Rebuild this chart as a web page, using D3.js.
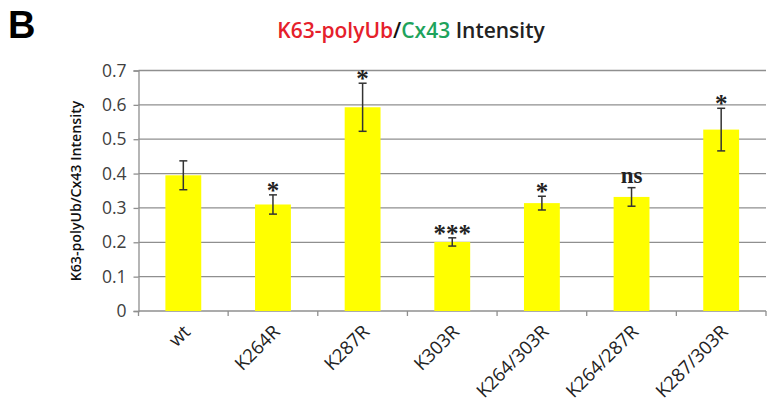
<!DOCTYPE html>
<html>
<head>
<meta charset="utf-8">
<script src="https://cdn.jsdelivr.net/npm/d3@7"></script>
<style>
  body { margin: 0; background: #fff; }
  svg { display: block; }
</style>
</head>
<body>
<div id="chart"></div>
<script>
// data
const categories = ["wt", "K264R", "K287R", "K303R", "K264/303R", "K264/287R", "K287/303R"];
const values = [0.395, 0.310, 0.593, 0.201, 0.314, 0.332, 0.528];
const errors = [0.042, 0.028, 0.070, 0.012, 0.020, 0.027, 0.062];
const marks = ["", "*", "*", "***", "*", "ns", "*"];
const yTicks = [0, 0.1, 0.2, 0.3, 0.4, 0.5, 0.6, 0.7];

const W = 780, H = 406;
const margin = { top: 70.5, right: 14, bottom: 95, left: 138.5 };
const width = W - margin.left - margin.right,
  height = H - margin.top - margin.bottom;

const svg = d3
  .select("#chart")
  .append("svg")
  .attr("width", W)
  .attr("height", H);

// panel letter
svg.append("text")
  .attr("x", 8)
  .attr("y", 38)
  .text("B")
  .attr("font-family", "Liberation Sans, Arial, sans-serif")
  .attr("font-weight", "bold")
  .attr("font-size", "38px")
  .attr("fill", "#000");

// title with coloured parts
const title = svg.append("text")
  .attr("x", 411)
  .attr("y", 38)
  .attr("text-anchor", "middle")
  .attr("font-family", "Open Sans, sans-serif")
  .attr("font-weight", 600)
  .attr("font-size", "21px");
title.append("tspan").text("K63-polyUb").attr("fill", "#e5202b");
title.append("tspan").text("/").attr("fill", "#111");
title.append("tspan").text("Cx43").attr("fill", "#1ea35c");
title.append("tspan").text(" Intensity").attr("fill", "#222");

const g = svg.append("g")
  .attr("transform", `translate(${margin.left}, ${margin.top})`);

const x = d3.scaleBand().domain(categories).range([0, width]).padding(0);
const y = d3.scaleLinear().domain([0, 0.7]).range([height, 0]);

// gridlines
g.selectAll(".grid")
  .data(yTicks.filter(d => d > 0))
  .join("line")
  .attr("x1", 0)
  .attr("x2", width)
  .attr("y1", d => y(d))
  .attr("y2", d => y(d))
  .attr("stroke", "#8f8f8f")
  .attr("stroke-width", 1.3);

// y axis
const yAxis = g.append("g")
  .call(d3.axisLeft(y).tickValues(yTicks).tickSize(5).tickPadding(7)
    .tickFormat(d => d === 0 ? "0" : d3.format(".1f")(d)));
yAxis.select(".domain").attr("stroke", "#8f8f8f").attr("stroke-width", 1.3);
yAxis.selectAll(".tick line").attr("stroke", "#8f8f8f").attr("stroke-width", 1.3);
yAxis.selectAll(".tick text")
  .attr("font-family", "Open Sans, sans-serif")
  .attr("font-size", "17.5px")
  .attr("fill", "#404040");

// x axis line and boundary ticks
g.append("line")
  .attr("x1", 0).attr("x2", width)
  .attr("y1", height).attr("y2", height)
  .attr("stroke", "#8f8f8f").attr("stroke-width", 1.3);
const bounds = categories.map(c => x(c)).concat([width]);
g.selectAll(".xtick")
  .data(bounds)
  .join("line")
  .attr("x1", d => d).attr("x2", d => d)
  .attr("y1", height).attr("y2", height + 5)
  .attr("stroke", "#8f8f8f").attr("stroke-width", 1.3);

// x labels
g.selectAll(".xlab")
  .data(categories)
  .join("text")
  .attr("transform", d => `translate(${x(d) + x.bandwidth() / 2 + 8}, ${height + 22}) rotate(-45)`)
  .attr("text-anchor", "end")
  .attr("font-family", "Open Sans, sans-serif")
  .attr("font-size", "18.5px")
  .attr("fill", "#222")
  .text(d => d);

// bars
const bw = x.bandwidth() * 0.4;
g.selectAll(".bar")
  .data(categories)
  .join("rect")
  .attr("x", d => x(d) + x.bandwidth() / 2 - bw / 2)
  .attr("y", (d, i) => y(values[i]))
  .attr("width", bw)
  .attr("height", (d, i) => height - y(values[i]))
  .attr("fill", "#ffff00");

// error bars
const eb = g.selectAll(".err")
  .data(categories)
  .join("g")
  .attr("transform", d => `translate(${x(d) + x.bandwidth() / 2}, 0)`);
eb.append("line")
  .attr("x1", 0).attr("x2", 0)
  .attr("y1", (d, i) => y(values[i] + errors[i]))
  .attr("y2", (d, i) => y(values[i] - errors[i]))
  .attr("stroke", "#333").attr("stroke-width", 1.5);
eb.append("line")
  .attr("x1", -4).attr("x2", 4)
  .attr("y1", (d, i) => y(values[i] + errors[i]))
  .attr("y2", (d, i) => y(values[i] + errors[i]))
  .attr("stroke", "#333").attr("stroke-width", 1.5);
eb.append("line")
  .attr("x1", -4).attr("x2", 4)
  .attr("y1", (d, i) => y(values[i] - errors[i]))
  .attr("y2", (d, i) => y(values[i] - errors[i]))
  .attr("stroke", "#333").attr("stroke-width", 1.5);

// significance marks
g.selectAll(".mark")
  .data(categories)
  .join("text")
  .attr("x", d => x(d) + x.bandwidth() / 2)
  .attr("y", (d, i) => y(values[i] + errors[i]) + (marks[i] === "ns" ? -5 : 4))
  .attr("text-anchor", "middle")
  .attr("font-family", "Liberation Serif, Times New Roman, serif")
  .attr("font-weight", "bold")
  .attr("font-size", (d, i) => marks[i] === "ns" ? "23px" : "25px")
  .attr("fill", "#222")
  .text((d, i) => marks[i]);

// y axis title
svg.append("text")
  .attr("transform", "translate(81, 191) rotate(-90)")
  .attr("text-anchor", "middle")
  .attr("font-family", "Open Sans, sans-serif")
  .attr("font-weight", 600)
  .attr("font-size", "14.2px")
  .attr("fill", "#111")
  .text("K63-polyUb/Cx43 Intensity");
</script>
</body>
</html>
